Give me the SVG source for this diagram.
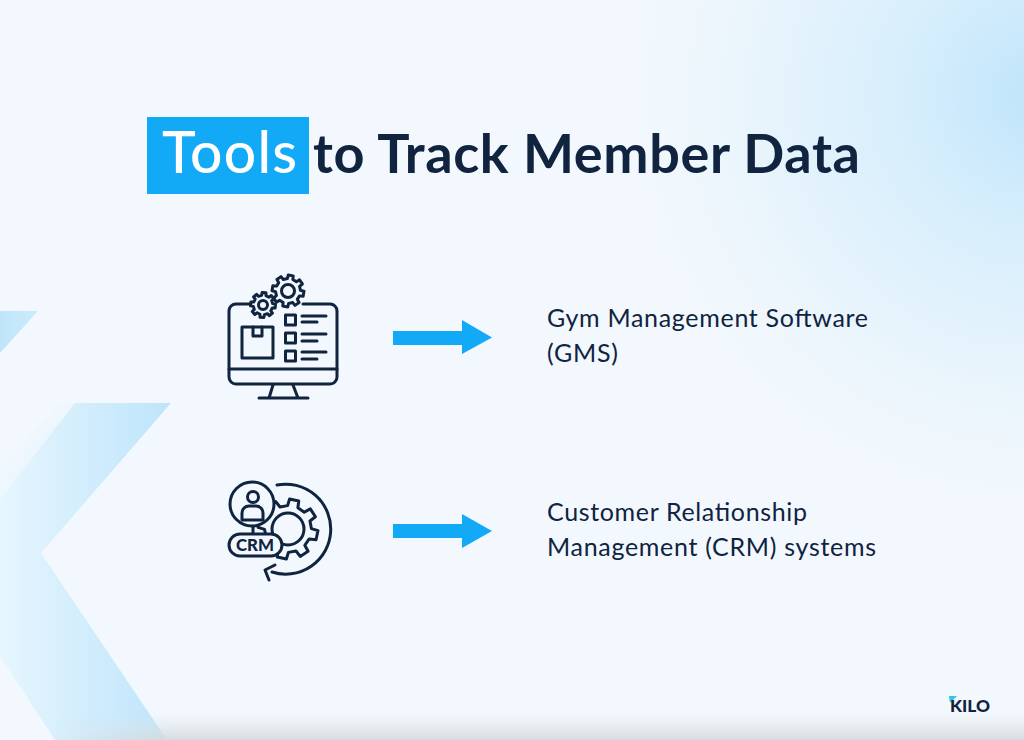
<svg xmlns="http://www.w3.org/2000/svg" width="1024" height="740" viewBox="0 0 1024 740">
<style>
.ln{fill:none;stroke:#10233f;stroke-width:3;stroke-linecap:round;stroke-linejoin:round}
.t{font-family:"Lato","Liberation Sans",sans-serif;fill:#10233f}
.h{font-size:54px;font-weight:700}
.b{font-size:25px;font-weight:400}
.ar{fill:#12a9f6}
</style>
<defs>
<radialGradient id="glow" gradientUnits="userSpaceOnUse" cx="1040" cy="95" r="440">
<stop offset="0" stop-color="#bfe4fb"/><stop offset=".3" stop-color="#d6eefc"/><stop offset=".65" stop-color="#e8f4fc"/><stop offset="1" stop-color="#f2f8fd" stop-opacity="0"/>
</radialGradient>
<linearGradient id="kg" gradientUnits="userSpaceOnUse" x1="0" y1="0" x2="175" y2="0">
<stop offset="0" stop-color="#e6f6fe"/><stop offset="1" stop-color="#bde4fb"/>
</linearGradient>
<linearGradient id="kfade" gradientUnits="userSpaceOnUse" x1="10" y1="440" x2="60" y2="500">
<stop offset="0" stop-color="#f2f8fd"/><stop offset="1" stop-color="#f2f8fd" stop-opacity="0"/>
</linearGradient>
<linearGradient id="tg" gradientUnits="userSpaceOnUse" x1="0" y1="0" x2="40" y2="0">
<stop offset="0" stop-color="#bfe5fa"/><stop offset="1" stop-color="#cdebfb"/>
</linearGradient>
<linearGradient id="floor" x1="0" y1="0" x2="0" y2="1">
<stop offset="0" stop-color="#dfe4e6" stop-opacity="0"/><stop offset="1" stop-color="#d5dbde"/>
</linearGradient>
<linearGradient id="floorx" gradientUnits="userSpaceOnUse" x1="50" y1="0" x2="170" y2="0">
<stop offset="0" stop-color="#fff" stop-opacity="0"/><stop offset="1" stop-color="#fff"/>
</linearGradient>
<mask id="fm"><rect x="0" y="700" width="1024" height="40" fill="url(#floorx)"/></mask>
<path id="gear" vector-effect="non-scaling-stroke" d="M7.6-1.755L9.88-1.56V1.56L7.6 1.755L6.61 4.13L8.09 5.88L5.88 8.09L4.13 6.61L1.755 7.6L1.56 9.88H-1.56L-1.755 7.6L-4.13 6.61L-5.88 8.09L-8.09 5.88L-6.61 4.13L-7.6 1.755L-9.88 1.56V-1.56L-7.6-1.755L-6.61-4.13L-8.09-5.88L-5.88-8.09L-4.13-6.61L-1.755-7.6L-1.56-9.88H1.56L1.755-7.6L4.13-6.61L5.88-8.09L8.09-5.88L6.61-4.13Z"/>
</defs>

<g id="background">
<rect width="1024" height="740" fill="#f2f8fd"/>
<rect x="580" y="0" width="444" height="540" fill="url(#glow)"/>
<polygon points="0,311 38,311 0,353" fill="url(#tg)"/>
<polygon points="60,403 171,403 41,553 167,740 55,740 0,656 0,470" fill="url(#kg)"/>
<polygon points="60,403 0,470 0,500 75,403" fill="url(#kfade)"/>
<rect x="0" y="714" width="1024" height="26" fill="url(#floor)" mask="url(#fm)"/>
</g>

<g id="title">
<rect x="147" y="117" width="162" height="77" fill="#12a9f6"/>
<text class="t h" x="162" y="173" style="fill:#fff;font-weight:500;font-size:57px" textLength="135" lengthAdjust="spacing">Tools</text>
<text class="t h" x="313" y="173" textLength="547" lengthAdjust="spacing">to Track Member Data</text>
</g>

<g id="node-gms-icon">
<path class="ln" d="M249 304H236a7 7 0 0 0-7 7V377a7 7 0 0 0 7 7H330a7 7 0 0 0 7-7V311a7 7 0 0 0-7-7H303"/>
<path class="ln" d="M229 369H337M273 385L269 398M293 385L298 398M259 398H308"/>
<rect class="ln" x="242" y="327" width="31" height="31"/>
<path class="ln" d="M253 327V336H262V327"/>
<rect class="ln" x="285.500" y="315" width="10" height="10"/>
<rect class="ln" x="285.500" y="333" width="10" height="10"/>
<rect class="ln" x="285.500" y="351" width="10" height="10"/>
<path class="ln" d="M302 316H326M302 322H317M302 334H326M302 341H317M302 352H326M302 359H317"/>
<use href="#gear" class="ln" style="fill:#f2f8fd" transform="translate(288 291) scale(1.6) rotate(10)"/>
<circle class="ln" cx="288" cy="291" r="6.500"/>
<use href="#gear" class="ln" style="fill:#f2f8fd" transform="translate(263 305) scale(1.25) rotate(5)"/>
<circle class="ln" cx="263" cy="305" r="4.500"/>
</g>

<g id="node-gms-label">
<text class="t b" x="547" y="327" textLength="321" lengthAdjust="spacing">Gym Management Software</text>
<text class="t b" x="547" y="362" textLength="71" lengthAdjust="spacing">(GMS)</text>
</g>

<g id="node-crm-icon">
<path class="ln" d="M277 485A45 45 0 1 1 272 572"/>
<path class="ln" d="M275 565L265 570L269 580"/>
<use href="#gear" class="ln" style="fill:#f2f8fd" transform="translate(288 529) scale(3) rotate(12)"/>
<circle class="ln" cx="288" cy="529" r="16"/>
<circle class="ln" cx="252" cy="504" r="22" style="fill:#f2f8fd"/>
<circle class="ln" cx="253" cy="497" r="5.500"/>
<path class="ln" d="M242 520V513a7 7 0 0 1 7-7H256a7 7 0 0 1 7 7V520Z"/>
<path class="ln" d="M253 526V534"/>
<rect class="ln" x="229" y="534" width="53" height="22" rx="11" style="fill:#f2f8fd"/>
<text x="236" y="551" font-family="Lato,'Liberation Sans',sans-serif" font-size="17" font-weight="900" fill="#10233f" textLength="38" lengthAdjust="spacingAndGlyphs">CRM</text>
</g>

<g id="node-crm-label">
<text class="t b" x="547" y="521" textLength="260" lengthAdjust="spacing">Customer Relationship</text>
<text class="t b" x="547" y="556" textLength="329" lengthAdjust="spacing">Management (CRM) systems</text>
</g>

<g id="connectors">
<polygon class="ar" points="393,331 462,331 462,320 492,337.500 462,354 462,345 393,345"/>
<polygon class="ar" points="393,524 462,524 462,514 492,531 462,548 462,538 393,538"/>
</g>

<g id="logo">
<polygon points="949,696 957,696 950,703" fill="#35c3e6"/>
<text x="950" y="712" font-family="Lato,'Liberation Sans',sans-serif" font-size="17" font-weight="900" fill="#10233f" textLength="40" lengthAdjust="spacingAndGlyphs">KILO</text>
</g>
</svg>
